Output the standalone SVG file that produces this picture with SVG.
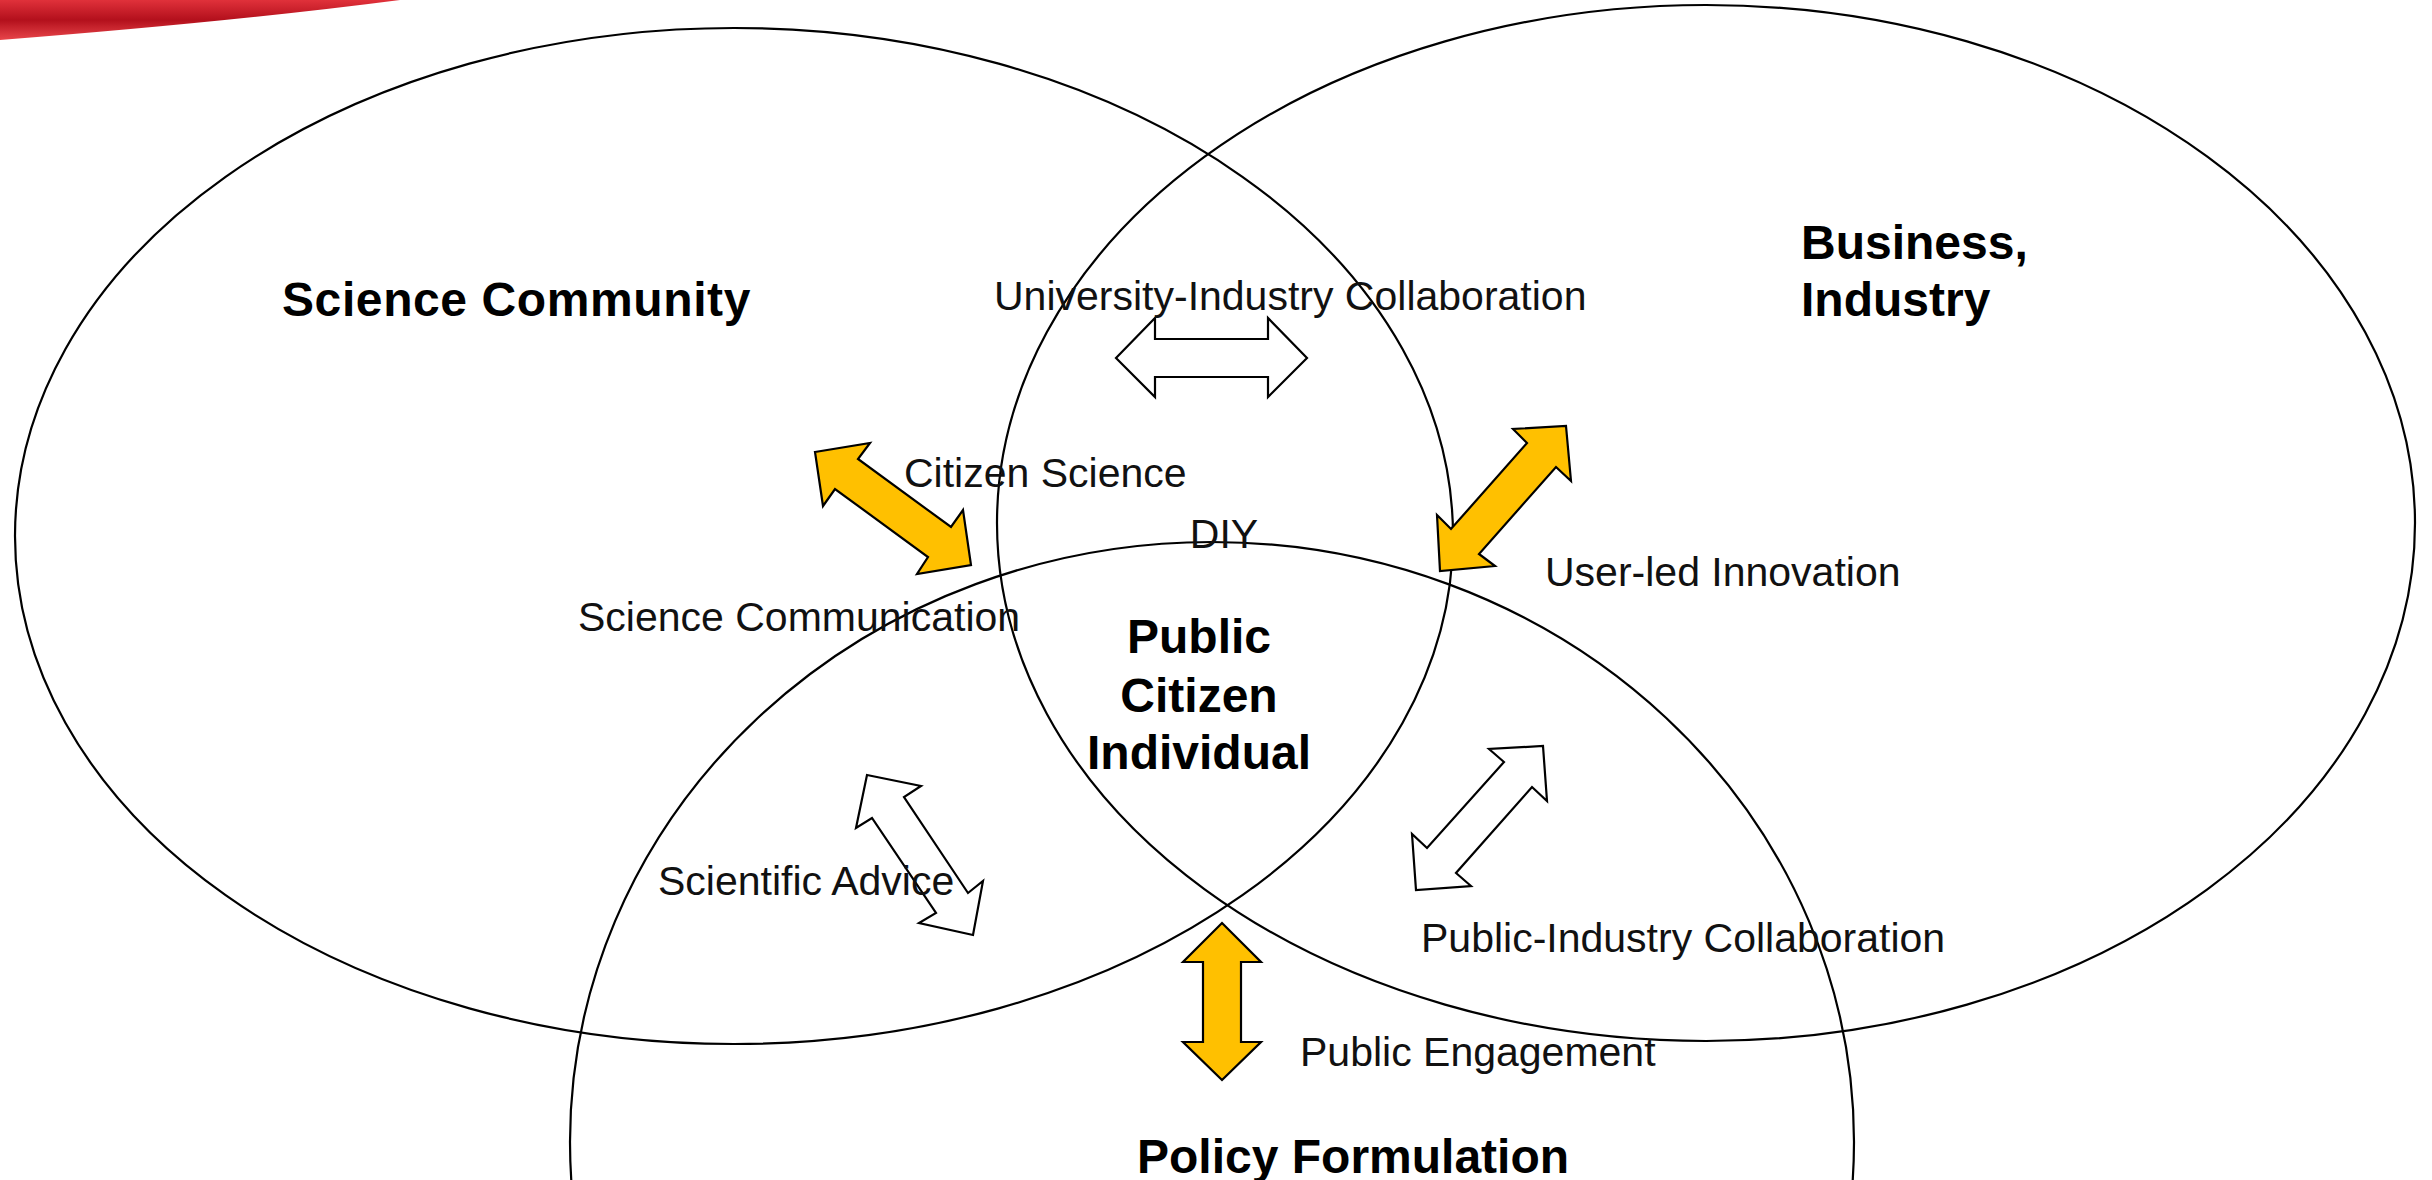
<svg xmlns="http://www.w3.org/2000/svg" width="2432" height="1180" viewBox="0 0 2432 1180">
<defs>
<linearGradient id="red" x1="0" y1="0" x2="0" y2="1">
<stop offset="0" stop-color="#e0313a"/>
<stop offset="0.5" stop-color="#b3101c"/>
<stop offset="1" stop-color="#e8454a"/>
</linearGradient>
<style>
.ell{fill:none;stroke:#000;stroke-width:2.2}
.arw{stroke:#000;stroke-width:2.2;stroke-linejoin:miter}
.y{fill:#FFC000}
.w{fill:#fff}
.lbl{font-family:"Liberation Sans",Arial,sans-serif;font-size:41px;fill:#111}
.ttl{font-family:"Liberation Sans",Arial,sans-serif;font-size:48px;font-weight:bold;fill:#000}
</style>
</defs>
<rect width="2432" height="1180" fill="#fff"/>
<path d="M0,0 L400,0 Q230,22 0,40 Z" fill="url(#red)"/>
<g id="science-community">
<ellipse class="ell" cx="734" cy="536" rx="719" ry="508"/>
<text class="ttl" x="282" y="316" letter-spacing="0.6">Science Community</text>
</g>
<g id="business-industry">
<ellipse class="ell" cx="1706" cy="523" rx="709" ry="518"/>
<text class="ttl" x="1801" y="259">Business,</text>
<text class="ttl" x="1801" y="316">Industry</text>
</g>
<g id="policy-formulation">
<ellipse class="ell" cx="1212" cy="1142" rx="642" ry="600"/>
<text class="ttl" x="1137" y="1173">Policy Formulation</text>
</g>
<g id="public-citizen">
<text class="ttl" x="1199" y="653" text-anchor="middle">Public</text>
<text class="ttl" x="1199" y="712" text-anchor="middle">Citizen</text>
<text class="ttl" x="1199" y="769" text-anchor="middle">Individual</text>
</g>
<g id="connectors">
<path id="university-industry" class="arw w" d="M1116,358 L1155,318 L1155,339 L1268,339 L1268,318 L1307,358 L1268,397 L1268,377 L1155,377 L1155,397 Z"/>
<path id="citizen-science" class="arw y" d="M815,452 L870,443 L858,459 L951,527 L963,510 L971,565 L917,574 L928,557 L835,489 L823,506 Z"/>
<path id="user-led" class="arw y" d="M1566,426 L1571,481 L1556,467 L1479,554 L1495,566 L1440,571 L1437,515 L1451,529 L1527,443 L1513,429 Z"/>
<path id="scientific-advice" class="arw w" d="M867,775 L921,786 L904,797 L968,893 L983,881 L973,935 L919,923 L936,913 L872,818 L856,828 Z"/>
<path id="public-industry" class="arw w" d="M1543,746 L1547,801 L1532,787 L1456,873 L1471,886 L1416,890 L1412,834 L1427,848 L1504,762 L1489,749 Z"/>
<path id="public-engagement" class="arw y" d="M1222,923 L1261,962 L1241,962 L1241,1042 L1261,1042 L1222,1080 L1183,1042 L1203,1042 L1203,962 L1183,962 Z"/>
<text class="lbl" x="994" y="310">University-Industry Collaboration</text>
<text class="lbl" x="904" y="487">Citizen Science</text>
<text class="lbl" x="1224" y="548" text-anchor="middle">DIY</text>
<text class="lbl" x="578" y="631">Science Communication</text>
<text class="lbl" x="1545" y="586">User-led Innovation</text>
<text class="lbl" x="658" y="895">Scientific Advice</text>
<text class="lbl" x="1421" y="952">Public-Industry Collaboration</text>
<text class="lbl" x="1300" y="1066">Public Engagement</text>
</g>
</svg>
